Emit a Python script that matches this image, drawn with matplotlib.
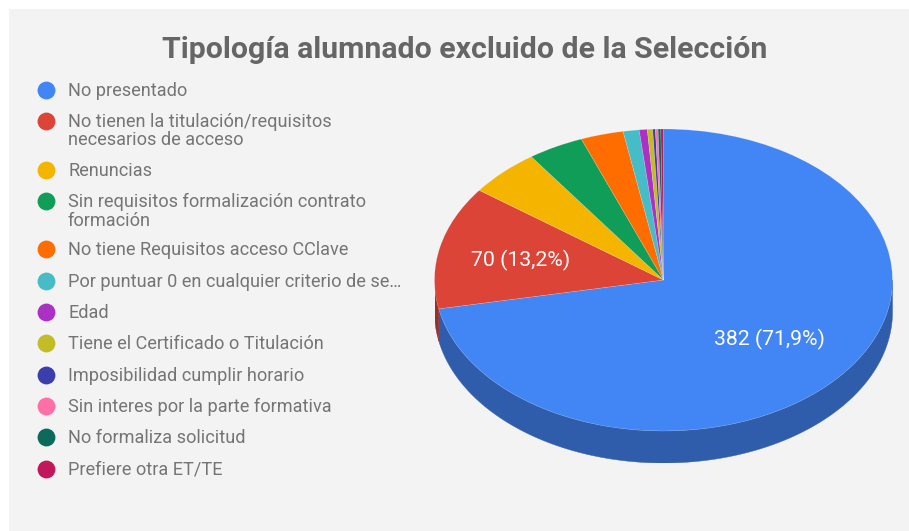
import numpy as np
import matplotlib
matplotlib.use("Agg")
import matplotlib.pyplot as plt
from matplotlib.patches import Rectangle

title = "Tipología alumnado excluido de la Selección"
categories = ["No presentado", "No tienen la titulación/requisitos\nnecesarios de acceso", "Renuncias",
              "Sin requisitos formalización contrato\nformación", "No tiene Requisitos acceso CClave",
              "Por puntuar 0 en cualquier criterio de se…", "Edad", "Tiene el Certificado o Titulación",
              "Imposibilidad cumplir horario", "Sin interes por la parte formativa", "No formaliza solicitud",
              "Prefiere otra ET/TE"]
values = [382, 70, 27, 21, 16, 6, 3, 2, 1, 1, 1, 1]
colors = ["#4285F4", "#DB4437", "#F4B400", "#0F9D58", "#FF6D00", "#46BDC6", "#AB30C4", "#C2BC25",
          "#3B3EAC", "#FF70A8", "#0B6A5A", "#C2185B"]
side_colors = ["#2F5DAB", "#992F26", "#AA7E00", "#0A6D3D", "#B24C00", "#31848A", "#772289", "#88831A",
               "#292B78", "#B24E75", "#074A3F", "#88113F"]
legend_y = [90, 121, 170, 201, 249, 281, 312, 343, 375, 406, 437, 469]

W, H = 909, 531
plt.rcParams["font.family"] = ["Roboto", "DejaVu Sans"]
fig = plt.figure(figsize=(W / 100, H / 100), dpi=100, facecolor="white")
bg = fig.add_axes([0, 0, 1, 1])
bg.set_xlim(0, W); bg.set_ylim(H, 0); bg.axis("off")
bg.add_patch(Rectangle((9, 9), W - 9, H - 9, fc="#F3F3F3", ec="none"))
bg.text(465, 50.5, title, ha="center", va="center", fontsize=21.8, fontweight="bold", color="#666666")

for y, c, label in zip(legend_y, colors, categories):
    bg.scatter([46], [y], s=165, color=c, linewidths=0)
    bg.text(68, y - 8, label, ha="left", va="top", fontsize=13.05, color="#757575", linespacing=1.03)

# Pie: ellipse centre (663.5, 280), radii 229 x 151, side depth 32 px
cx, cy, rx, ry, depth = 663.5, 280, 229, 151, 32
d = depth / ry
ax = fig.add_axes([(cx - rx) / W, 1 - (cy + ry + depth) / H, 2 * rx / W, (2 * ry + depth) / H])
ax.set_facecolor("none")

total = sum(values)
edges = np.cumsum([0] + values) / total * 2 * np.pi  # clockwise from top
for a0, a1, sc in zip(edges[:-1], edges[1:], side_colors):
    lo, hi = max(a0, np.pi / 2), min(a1, 3 * np.pi / 2)
    if hi > lo:
        t = np.linspace(lo, hi, 200)
        x, y = np.sin(t), np.cos(t)
        ax.fill(np.r_[x, x[::-1]], np.r_[y, y[::-1] - d], color=sc, lw=0.3, zorder=1)

ax.pie(values, colors=colors, startangle=90, counterclock=False, radius=1,
       wedgeprops=dict(linewidth=0.4, edgecolor="#ffffff40", zorder=2))
ax.set_aspect("auto")
ax.set_xlim(-1, 1)
ax.set_ylim(-1 - d, 1)

for idx, (px, py) in {0: (769.5, 339), 1: (521, 260.5)}.items():
    ax.text(px, py, f"{values[idx]} ({values[idx] / total * 100:.1f}%)".replace(".", ","), ha="center", va="center",
            fontsize=15.3, color="white", zorder=5, transform=bg.transData, clip_on=False)
bg.set_zorder(0); ax.set_zorder(1)
fig.savefig("out.png", dpi=100)
